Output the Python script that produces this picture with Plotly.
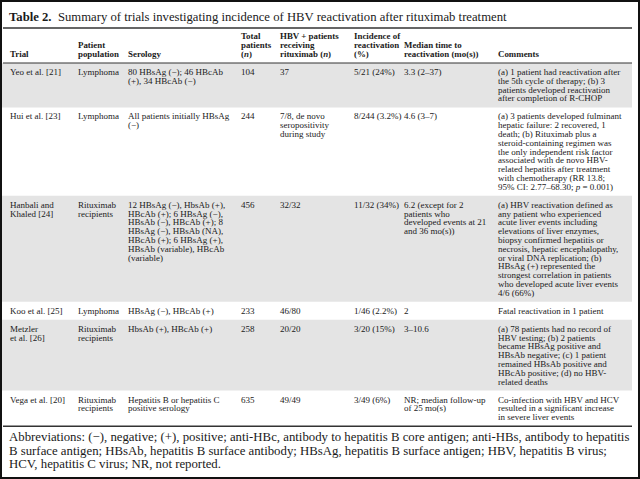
import plotly.graph_objects as go

# ---------------- data ----------------
title_bold = "Table 2."
title_rest = "Summary of trials investigating incidence of HBV reactivation after rituximab treatment"

header_trial = ["Trial"]
header_population = ["Patient", "population"]
header_serology = ["Serology"]
header_total = ["Total", "patients", "(<i>n</i>)"]
header_hbv = ["HBV + patients", "receiving", "rituximab (<i>n</i>)"]
header_incidence = ["Incidence of", "reactivation", "(%)"]
header_median = ["Median time to", "reactivation (mo(s))"]
header_comments = ["Comments"]

trial = [
    ["Yeo et al. [21]"],
    ["Hui et al. [23]"],
    ["Hanbali and", "Khaled [24]"],
    ["Koo et al. [25]"],
    ["Metzler", "et al. [26]"],
    ["Vega et al. [20]"],
]
population = [
    ["Lymphoma"],
    ["Lymphoma"],
    ["Rituximab", "recipients"],
    ["Lymphoma"],
    ["Rituximab", "recipients"],
    ["Rituximab", "recipients"],
]
serology = [
    ["80 HBsAg (\u2212); 46 HBcAb", "(+), 34 HBcAb (\u2212)"],
    ["All patients initially HBsAg", "(\u2212)"],
    ["12 HBsAg (\u2212), HbsAb (+),", "HBcAb (+); 6 HBsAg (\u2212),",
     "HBsAb (\u2212), HBcAb (+); 8", "HBsAg (\u2212), HBsAb (NA),",
     "HBcAb (+); 6 HBsAg (+),", "HBsAb (variable), HBcAb", "(variable)"],
    ["HBsAg (\u2212), HBcAb (+)"],
    ["HbsAb (+), HBcAb (+)"],
    ["Hepatitis B or hepatitis C", "positive serology"],
]
total_patients = [["104"], ["244"], ["456"], ["233"], ["258"], ["635"]]
hbv_rituximab = [
    ["37"],
    ["7/8, de novo", "seropositivity", "during study"],
    ["32/32"],
    ["46/80"],
    ["20/20"],
    ["49/49"],
]
incidence = [["5/21 (24%)"], ["8/244 (3.2%)"], ["11/32 (34%)"],
             ["1/46 (2.2%)"], ["3/20 (15%)"], ["3/49 (6%)"]]
median_time = [
    ["3.3 (2\u201337)"],
    ["4.6 (3\u20137)"],
    ["6.2 (except for 2", "patients who", "developed events at 21", "and 36 mo(s))"],
    ["2"],
    ["3\u201310.6"],
    ["NR; median follow-up", "of 25 mo(s)"],
]
comments = [
    ["(a) 1 patient had reactivation after", "the 5th cycle of therapy; (b) 3",
     "patients developed reactivation", "after completion of R-CHOP"],
    ["(a) 3 patients developed fulminant", "hepatic failure: 2 recovered, 1",
     "death; (b) Rituximab plus a", "steroid-containing regimen was",
     "the only independent risk factor", "associated with de novo HBV-",
     "related hepatitis after treatment", "with chemotherapy (RR 13.8;",
     "95% CI: 2.77\u201368.30; <i>p</i> = 0.001)"],
    ["(a) HBV reactivation defined as", "any patient who experienced",
     "acute liver events including", "elevations of liver enzymes,",
     "biopsy confirmed hepatitis or", "necrosis, hepatic encephalopathy,",
     "or viral DNA replication; (b)", "HBsAg (+) represented the",
     "strongest correlation in patients", "who developed acute liver events",
     "4/6 (66%)"],
    ["Fatal reactivation in 1 patient"],
    ["(a) 78 patients had no record of", "HBV testing; (b) 2 patients",
     "became HBsAg positive and", "HBsAb negative; (c) 1 patient",
     "remained HBsAb positive and", "HBcAb positive; (d) no HBV-",
     "related deaths"],
    ["Co-infection with HBV and HCV", "resulted in a significant increase",
     "in severe liver events"],
]
row_shaded = [True, False, True, False, True, False]

footnote = [
    "Abbreviations: (\u2212), negative; (+), positive; anti-HBc, antibody to hepatitis B core antigen; anti-HBs, antibody to hepatitis",
    "B surface antigen; HBsAb, hepatitis B surface antibody; HBsAg, hepatitis B surface antigen; HBV, hepatitis B virus;",
    "HCV, hepatitis C virus; NR, not reported.",
]

# ---------------- layout constants ----------------
W, H = 640, 479
FONT = "Liberation Serif"
TXT = "#1a1a1a"
GRAY = "#e4e4e4"
COL_X = [9, 77, 127, 240, 279, 353, 403, 497]
LINE_H = 8.8
PAD = 9.0
BODY_SIZE = 9.0
HEAD_SIZE = 8.9
HEAD_BOTTOM = 54
HEAD_RULE = 63
TITLE_Y = 17
TITLE_RULE = 28


def px(x):
    return x / W


def py(y):
    return 1 - y / H


annotations = []
shapes = []


def add_text(x, y, text, size=BODY_SIZE, bold=False):
    if bold:
        text = "<b>" + text + "</b>"
    annotations.append(dict(
        x=px(x), y=py(y), xref="paper", yref="paper", text=text,
        showarrow=False, xanchor="left", yanchor="middle",
        font=dict(family=FONT, size=size, color=TXT), borderpad=0,
    ))


# title
add_text(8, TITLE_Y, "<b>" + title_bold + "</b>  " + title_rest, size=12.7)

# header (bottom aligned)
headers = [header_trial, header_population, header_serology, header_total,
           header_hbv, header_incidence, header_median, header_comments]
for cx, lines in zip(COL_X, headers):
    n = len(lines)
    for i, ln in enumerate(lines):
        add_text(cx, HEAD_BOTTOM - (n - 1 - i) * LINE_H, ln, size=HEAD_SIZE, bold=True)

# body
columns = [trial, population, serology, total_patients, hbv_rituximab,
           incidence, median_time, comments]
top = HEAD_RULE
for r in range(len(trial)):
    nmax = max(len(col[r]) for col in columns)
    height = (nmax - 1) * LINE_H + 2 * PAD
    if row_shaded[r]:
        shapes.append(dict(type="rect", xref="paper", yref="paper",
                           x0=px(2), x1=px(632), y0=py(top), y1=py(top + height),
                           fillcolor=GRAY, line=dict(width=0), layer="below"))
    for cx, col in zip(COL_X, columns):
        for i, ln in enumerate(col[r]):
            add_text(cx, top + PAD + i * LINE_H, ln)
    top += height
table_bottom = top

# rules
for yy, w in [(TITLE_RULE, 1.6), (HEAD_RULE, 1.0), (table_bottom, 1.6)]:
    shapes.append(dict(type="line", xref="paper", yref="paper",
                       x0=px(3), x1=px(632), y0=py(yy), y1=py(yy),
                       line=dict(color="#333333", width=w)))

# footnote
for i, ln in enumerate(footnote):
    add_text(8, table_bottom + 11 + i * 13.5, ln, size=12.8)

# outer border
shapes.append(dict(type="rect", xref="paper", yref="paper",
                   x0=px(1), x1=px(639), y0=py(1), y1=py(478),
                   line=dict(color="#111111", width=2), fillcolor="rgba(0,0,0,0)"))

fig = go.Figure()
fig.update_layout(
    width=W, height=H, margin=dict(l=0, r=0, t=0, b=0),
    paper_bgcolor="white", plot_bgcolor="white",
    xaxis=dict(visible=False, range=[0, 1]), yaxis=dict(visible=False, range=[0, 1]),
    annotations=annotations, shapes=shapes, showlegend=False,
)
fig.write_html("out.html", include_plotlyjs=True,
               config={"displayModeBar": False},
               post_script="document.body.style.margin='0px';document.body.style.overflow='hidden';")
